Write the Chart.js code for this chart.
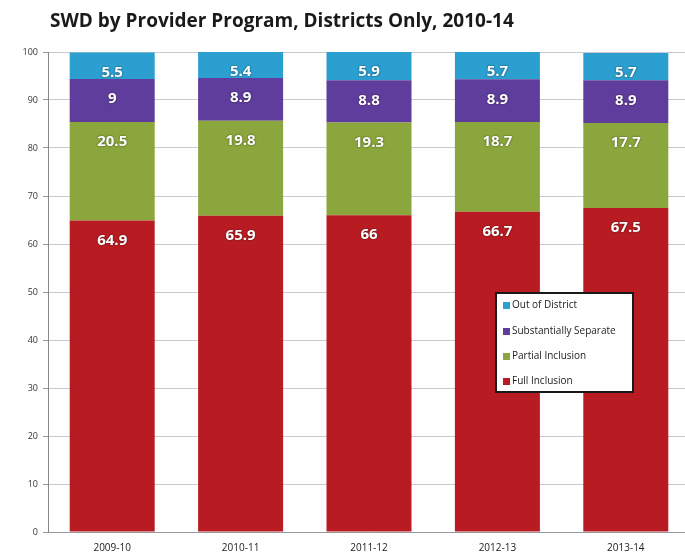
<!DOCTYPE html>
<html>
<head>
<meta charset="utf-8">
<script src="https://cdn.jsdelivr.net/npm/chart.js@4"></script>
<style>
  html, body { margin: 0; padding: 0; background: #fff; overflow: hidden; }
  #wrap { width: 692px; height: 559px; position: relative; }
</style>
</head>
<body>
<div id="wrap"><canvas id="c"></canvas></div>
<script>
const titleText = "SWD by Provider Program, Districts Only, 2010-14";
const categories = ["2009-10", "2010-11", "2011-12", "2012-13", "2013-14"];
const fullInclusion = [64.9, 65.9, 66, 66.7, 67.5];
const partialInclusion = [20.5, 19.8, 19.3, 18.7, 17.7];
const substantiallySeparate = [9, 8.9, 8.8, 8.9, 8.9];
const outOfDistrict = [5.5, 5.4, 5.9, 5.7, 5.7];
const yTicks = [0, 10, 20, 30, 40, 50, 60, 70, 80, 90, 100];
const seriesNames = ["Full Inclusion", "Partial Inclusion", "Substantially Separate", "Out of District"];
const colors = ["#b81c22", "#8ba63c", "#5f3d9c", "#2b9fcf"];

const titlePlugin = {
  id: 'titleDraw',
  afterDraw(chart) {
    const ctx = chart.ctx;
    ctx.save();
    ctx.font = "bold 19px 'Open Sans', sans-serif";
    ctx.fillStyle = "#1a1a1a";
    ctx.textBaseline = "middle";
    ctx.textAlign = "left";
    ctx.fillText(titleText, 50, 22);
    ctx.restore();
  }
};

const labelPlugin = {
  id: 'segLabels',
  afterDatasetsDraw(chart) {
    const ctx = chart.ctx;
    ctx.save();
    ctx.font = "bold 15px 'Open Sans', sans-serif";
    ctx.textAlign = "center";
    ctx.textBaseline = "middle";
    chart.data.datasets.forEach((ds, di) => {
      const meta = chart.getDatasetMeta(di);
      meta.data.forEach((el, i) => {
        const top = Math.min(el.y, el.base);
        ctx.shadowColor = "rgba(0,0,0,0.6)";
        ctx.shadowBlur = 2;
        ctx.fillStyle = "#ffffff";
        ctx.fillText(String(ds.data[i]), el.x, top + 20);
      });
    });
    ctx.restore();
  }
};

const legendPlugin = {
  id: 'boxLegend',
  afterDraw(chart) {
    const ctx = chart.ctx;
    ctx.save();
    const x0 = 496, y0 = 293, w = 137, h = 99;
    ctx.fillStyle = "#ffffff";
    ctx.fillRect(x0, y0, w, h);
    ctx.strokeStyle = "#1a1a1a";
    ctx.lineWidth = 2;
    ctx.strokeRect(x0, y0, w, h);
    ctx.font = "10px 'Open Sans', sans-serif";
    ctx.textBaseline = "middle";
    ctx.textAlign = "left";
    const order = [3, 2, 1, 0];
    const rowsY = [305, 331, 356, 381];
    order.forEach((di, k) => {
      const ds = chart.data.datasets[di];
      ctx.fillStyle = ds.backgroundColor;
      ctx.fillRect(503, rowsY[k] - 3, 7, 7);
      ctx.fillStyle = "#222";
      ctx.fillText(ds.label, 512, rowsY[k]);
    });
    ctx.restore();
  }
};

const datasetsValues = [fullInclusion, partialInclusion, substantiallySeparate, outOfDistrict];

new Chart(document.getElementById('c'), {
  type: 'bar',
  data: {
    labels: categories,
    datasets: datasetsValues.map((vals, i) => ({
      label: seriesNames[i],
      data: vals,
      backgroundColor: colors[i],
      borderWidth: 0,
      categoryPercentage: 1,
      barPercentage: 0.662
    }))
  },
  options: {
    responsive: true,
    maintainAspectRatio: false,
    animation: false,
    layout: { padding: { top: 52, right: 2, bottom: 4, left: 0 } },
    plugins: {
      legend: { display: false },
      title: { display: false },
      tooltip: { enabled: false }
    },
    scales: {
      x: {
        stacked: true,
        afterFit(scale) { scale.height = 23; },
        grid: { display: false, drawTicks: false },
        border: { display: true, color: "#999", width: 1 },
        ticks: { color: "#222", font: { size: 10, family: "'Open Sans', sans-serif" }, padding: 10 }
      },
      y: {
        stacked: true,
        min: 0,
        max: 100,
        afterFit(scale) { scale.width = 48; },
        afterBuildTicks(scale) { scale.ticks = yTicks.map(v => ({ value: v })); },
        grid: { color: "#c9c9cf", tickLength: 5, tickColor: "#999" },
        border: { display: true, color: "#888", width: 1 },
        ticks: { color: "#333", font: { size: 9, family: "'Open Sans', sans-serif" }, padding: 5 }
      }
    }
  },
  plugins: [titlePlugin, labelPlugin, legendPlugin]
});
</script>
</body>
</html>
